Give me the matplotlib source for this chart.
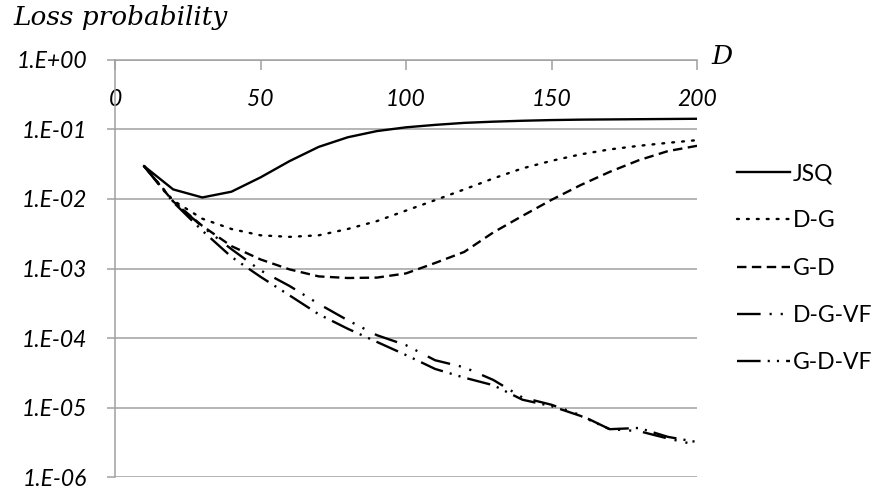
import matplotlib
matplotlib.use("Agg")
import matplotlib.pyplot as plt

# loss probability vs D
d_values = [10, 20, 30, 40, 50, 60, 70, 80, 90, 100,
            110, 120, 130, 140, 150, 160, 170, 180, 190, 200]
jsq = [0.0296, 0.0137, 0.0105, 0.0127, 0.0204, 0.035, 0.056, 0.077, 0.0945, 0.107,
       0.116, 0.124, 0.129, 0.133, 0.136, 0.138, 0.139, 0.140, 0.141, 0.142]
d_g = [0.0296, 0.0095, 0.0052, 0.0037, 0.0030, 0.00285, 0.0030, 0.0037, 0.0048, 0.0068,
       0.0096, 0.0137, 0.0197, 0.0275, 0.0353, 0.0437, 0.0515, 0.058, 0.064, 0.070]
g_d = [0.0296, 0.0092, 0.0041, 0.0021, 0.00135, 0.00097, 0.00077, 0.00073, 0.00074, 0.00085,
       0.0012, 0.00173, 0.0033, 0.0057, 0.0097, 0.0158, 0.0245, 0.036, 0.0487, 0.058]
d_g_vf = [0.0296, 0.0092, 0.0040, 0.0019, 0.00094, 0.00056, 0.00031, 0.00018, 0.00011, 7.9e-5,
          4.8e-5, 3.8e-5, 2.5e-5, 1.4e-5, 1.1e-5, 7.8e-6, 4.9e-6, 4.6e-6, 3.6e-6, 2.9e-6]
g_d_vf = [0.0296, 0.0090, 0.0035, 0.00147, 0.00076, 0.00041, 0.00022, 0.000136, 8.8e-5, 5.7e-5,
          3.6e-5, 2.7e-5, 2.1e-5, 1.3e-5, 1.05e-5, 7.6e-6, 4.9e-6, 5.1e-6, 3.8e-6, 3.2e-6]

x_ticks = [0, 50, 100, 150, 200]
y_ticks = [1e0, 1e-1, 1e-2, 1e-3, 1e-4, 1e-5, 1e-6]
y_labels = ["1.E+00", "1.E-01", "1.E-02", "1.E-03", "1.E-04", "1.E-05", "1.E-06"]

SANS = ["Lato", "DejaVu Sans"]
GRID = "#a0a0a0"
FS = 16.5

fig = plt.figure(figsize=(8.91, 4.91), dpi=100)
ax = fig.add_axes([115 / 891, 1 - 477.2 / 491, (697 - 115) / 891, (477.2 - 59.8) / 491])

lw = 1.7
ax.plot(d_values, jsq, color="black", lw=lw, label="JSQ")
ax.plot(d_values, d_g, color="black", lw=lw, linestyle=(0, (0.8, 3.4)),
        dash_capstyle="round", label="D-G")
ax.plot(d_values, g_d, color="black", lw=lw, linestyle=(0, (4, 2.3)), label="G-D")
ax.plot(d_values, d_g_vf, color="black", lw=lw,
        linestyle=(0, (10, 3.8, 0.9, 3.8, 0.9, 5)), label="D-G-VF")
ax.plot(d_values, g_d_vf, color="black", lw=lw,
        linestyle=(0, (10, 3.0, 0.9, 3.0, 0.9, 3.0)), label="G-D-VF")

ax.set_yscale("log")
ax.set_ylim(1e-6, 1e0)
ax.set_xlim(0, 200)
ax.set_yticks(y_ticks)
ax.set_yticklabels(y_labels, fontsize=FS, family=SANS, style="italic")
ax.minorticks_off()
ax.yaxis.grid(True, color=GRID, lw=1.1)
ax.set_axisbelow(True)

ax.set_xticks(x_ticks)
ax.set_xticklabels([str(t) for t in x_ticks], fontsize=FS, family=SANS, style="italic")
ax.tick_params(axis="x", bottom=False, top=True, labelbottom=False, labeltop=True,
               direction="in", length=7, width=1.1, color=GRID, pad=-36)
ax.tick_params(axis="y", direction="out", length=6, width=1.1, color=GRID, pad=14)

for side in ["right", "bottom"]:
    ax.spines[side].set_visible(False)
for side in ["left", "top"]:
    ax.spines[side].set_color(GRID)
    ax.spines[side].set_linewidth(1.1)

fig.text(13 / 891, 1 - 18 / 491, "Loss probability", fontsize=19, family="DejaVu Serif",
         style="italic", va="center", ha="left")
fig.text(711 / 891, 1 - 56 / 491, "D", fontsize=19, family="DejaVu Serif",
         style="italic", va="center", ha="left")

leg = ax.legend(loc="upper left", bbox_to_anchor=(737 / 891, 1 - 163 / 491),
                bbox_transform=fig.transFigure, frameon=False,
                prop={"family": SANS, "size": FS}, handlelength=2.3,
                handletextpad=0.15, labelspacing=1.15, borderpad=0, borderaxespad=0)

fig.savefig("out.png", dpi=100)
